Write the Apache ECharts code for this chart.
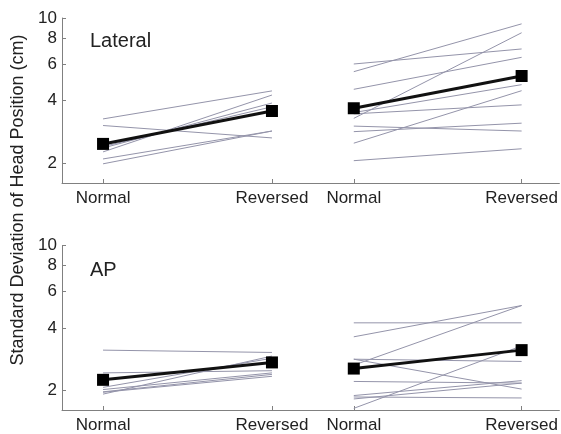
<!DOCTYPE html>
<html>
<head>
<meta charset="utf-8">
<script src="https://cdn.jsdelivr.net/npm/echarts@6/dist/echarts.min.js"></script>
<style>
  html, body { margin: 0; padding: 0; background: #fff; }
  #chart { width: 561px; height: 434px; }
</style>
</head>
<body>
<div id="chart"></div>
<script>
const categories = ['Normal', 'Reversed'];
const yTicks = [2, 4, 6, 8, 10];

// Lateral, group 1 (left)
const latLeftNormal   = [3.26, 3.03, 2.26, 2.36, 2.40, 2.09, 1.98];
const latLeftReversed = [4.45, 2.64, 4.25, 3.89, 3.73, 2.85, 2.85];
const latLeftMean     = [2.47, 3.56];

// Lateral, group 2 (right)
const latRightNormal   = [6.00, 5.51, 4.53, 3.28, 3.50, 3.45, 3.01, 2.83, 2.49, 2.05];
const latRightReversed = [7.09, 9.37, 6.46, 8.49, 4.77, 3.81, 2.85, 3.11, 4.46, 2.34];
const latRightMean     = [3.67, 5.25];

// AP, group 1 (left)
const apLeftNormal   = [3.12, 2.42, 1.91, 2.06, 2.01, 1.96, 1.95];
const apLeftReversed = [3.04, 2.48, 2.92, 2.85, 2.42, 2.38, 2.33];
const apLeftMean     = [2.24, 2.72];

// AP, group 2 (right)
const apRightNormal   = [4.23, 3.62, 2.64, 1.63, 2.82, 2.82, 2.20, 1.88, 1.85, 1.81];
const apRightReversed = [4.23, 5.13, 5.13, 3.27, 2.75, 2.02, 2.16, 2.22, 1.83, 2.16];
const apRightMean     = [2.54, 3.12];

const panels = [
  { normal: latLeftNormal,  reversed: latLeftReversed,  mean: latLeftMean },
  { normal: latRightNormal, reversed: latRightReversed, mean: latRightMean },
  { normal: apLeftNormal,   reversed: apLeftReversed,   mean: apLeftMean },
  { normal: apRightNormal,  reversed: apRightReversed,  mean: apRightMean }
];

const textColor = '#222';
const axisColor = '#808080';
const font = 'Liberation Sans, Arial, sans-serif';

const grids = [
  { left: 62,  top: 18,    width: 251, height: 165 },
  { left: 313, top: 18,    right: 0,   height: 165 },
  { left: 62,  top: 245.7, width: 251, height: 166 },
  { left: 313, top: 245.7, right: 0,   height: 166 }
];

const xAxes = grids.map((g, i) => ({
  type: 'value',
  gridIndex: i,
  min: -0.243,
  max: i % 2 === 0 ? 1.243 : 1.225,
  splitLine: { show: false },
  axisLine: { onZero: false, lineStyle: { color: axisColor } },
  axisTick: { inside: true, length: 4, customValues: [0, 1], lineStyle: { color: axisColor } },
  axisLabel: {
    customValues: [0, 1],
    formatter: v => categories[Math.round(v)],
    color: textColor, fontSize: 17, margin: 7, fontFamily: font
  }
}));

const yAxes = grids.map((g, i) => ({
  type: 'log',
  gridIndex: i,
  min: 1.6,
  max: 10,
  splitLine: { show: false },
  axisLine: { show: i % 2 === 0, onZero: false, lineStyle: { color: axisColor } },
  axisTick: { show: i % 2 === 0, inside: true, length: 4, customValues: yTicks, lineStyle: { color: axisColor } },
  axisLabel: {
    show: i % 2 === 0,
    customValues: yTicks,
    color: textColor, fontSize: 17, margin: 5, fontFamily: font
  }
}));

const series = [];
panels.forEach((p, i) => {
  p.normal.forEach((n, k) => {
    series.push({
      type: 'line', xAxisIndex: i, yAxisIndex: i,
      data: [[0, n], [1, p.reversed[k]]],
      symbol: 'none', silent: true,
      lineStyle: { color: '#9494aa', width: 1 }
    });
  });
  series.push({
    type: 'line', xAxisIndex: i, yAxisIndex: i, z: 5,
    data: [[0, p.mean[0]], [1, p.mean[1]]],
    symbol: 'rect', symbolSize: 12,
    itemStyle: { color: '#000' },
    lineStyle: { color: '#111', width: 3 }
  });
});

const chart = echarts.init(document.getElementById('chart'));
chart.setOption({
  animation: false,
  backgroundColor: '#fff',
  title: [
    { text: 'Lateral', left: 85, top: 26, textStyle: { fontSize: 20, fontWeight: 'normal', color: textColor, fontFamily: font } },
    { text: 'AP', left: 85, top: 255, textStyle: { fontSize: 20, fontWeight: 'normal', color: textColor, fontFamily: font } }
  ],
  graphic: [{
    type: 'text',
    x: 18, y: 200,
    rotation: Math.PI / 2,
    style: {
      text: 'Standard Deviation of Head Position (cm)',
      fill: textColor, fontSize: 18, fontFamily: font,
      align: 'center', verticalAlign: 'middle'
    }
  }],
  grid: grids,
  xAxis: xAxes,
  yAxis: yAxes,
  series: series
});
</script>
</body>
</html>
